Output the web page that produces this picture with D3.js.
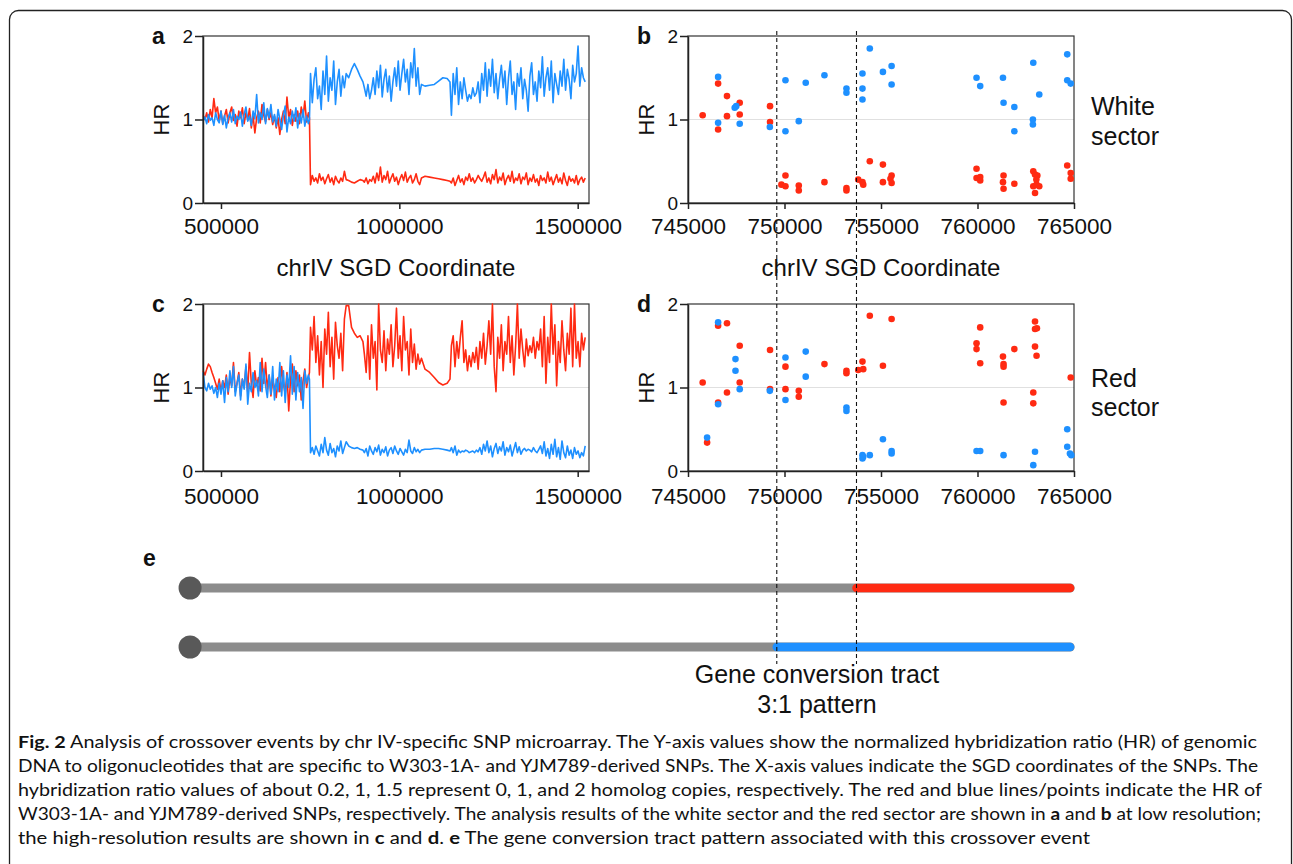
<!DOCTYPE html>
<html>
<head>
<meta charset="utf-8">
<script src="https://cdn.jsdelivr.net/npm/d3@7"></script>
<style>
  body { margin: 0; background: #fff; }
  svg text { font-family: "Liberation Sans", Arial, sans-serif; fill: #111; }
  svg text.cap { font-family: Lato, "Noto Sans", sans-serif; }
</style>
</head>
<body>
<svg id="fig" width="1293" height="864"></svg>
<script>
// SNP positions (kb) shared by the low resolution panels a and c
var POS_KB = [450,455,460,465,470,475,480,485,490,495,500,505,510,515,520,525,530,535,540,545,550,555,560,565,570,575,580,585,590,595,600,605,610,615,620,625,630,635,640,645,650,655,660,665,670,675,680,685,690,695,700,705,710,715,720,725,730,735,740,745,748,
  751,756,761,766,771,776,781,786,791,796,801,806,811,816,821,826,831,836,841,846,851,
  858,866,874,882,890,898,
  902,907,912,917,922,927,932,937,942,947,952,957,962,967,972,977,982,987,992,997,1002,1007,1012,1017,1022,1027,1032,1037,1042,1047,1052,1057,1062,
  1072,1085,1098,1110,1122,1134,1142,
  1146,1151,1156,1161,1166,1171,1176,1181,1186,1191,1196,1201,1206,1211,1216,1221,1226,1231,1236,1241,1246,1251,1256,1261,1266,1271,1276,1281,1286,1291,1296,1301,1306,1311,1316,1321,1326,1331,1336,1341,1346,1351,1356,1361,1366,1371,1376,1381,1386,1391,1396,1401,1406,1411,1416,1421,1426,1431,1436,1441,1446,1451,1456,1461,1466,1471,1476,1481,1486,1491,1496,1501,1506,1511,1516,1521];

// panel a (white sector): W303-1A (red) and YJM789 (blue)
var A_RED = [1.05,1.00,1.08,0.97,1.12,1.02,1.25,1.08,1.15,0.98,1.10,0.95,1.04,1.12,0.96,1.08,1.15,0.99,1.06,0.92,1.10,1.02,1.14,0.95,1.08,1.00,1.13,0.90,1.05,0.84,1.02,1.10,0.96,1.18,1.05,0.97,1.12,1.00,1.08,0.94,1.04,0.90,1.02,0.82,1.00,1.10,0.95,1.27,1.02,1.12,0.93,1.06,0.98,1.10,0.95,1.15,1.03,1.22,0.97,1.08,1.02,
  0.22,0.33,0.26,0.30,0.24,0.35,0.27,0.31,0.23,0.29,0.34,0.25,0.30,0.22,0.32,0.27,0.24,0.30,0.26,0.38,0.28,
  0.27,0.25,0.24,0.26,0.28,0.27,
  0.25,0.30,0.23,0.28,0.26,0.32,0.24,0.36,0.27,0.43,0.25,0.33,0.28,0.38,0.24,0.30,0.35,0.26,0.31,0.22,0.29,0.34,0.27,0.37,0.25,0.30,0.33,0.24,0.28,0.35,0.26,0.22,0.30,
  0.32,0.31,0.30,0.29,0.28,0.27,0.26,
  0.24,0.30,0.21,0.27,0.33,0.25,0.29,0.22,0.31,0.27,0.35,0.26,0.30,0.24,0.28,0.33,0.29,0.26,0.31,0.37,0.25,0.30,0.23,0.34,0.28,0.40,0.24,0.31,0.27,0.36,0.22,0.29,0.33,0.26,0.38,0.24,0.30,0.27,0.35,0.23,0.31,0.28,0.36,0.22,0.30,0.26,0.34,0.25,0.29,0.21,0.33,0.27,0.30,0.24,0.37,0.26,0.31,0.22,0.28,0.34,0.25,0.30,0.23,0.36,0.27,0.21,0.32,0.26,0.29,0.24,0.33,0.22,0.28,0.31,0.25,0.30];
var A_BLUE = [0.98,1.03,0.95,1.06,0.99,1.02,0.93,1.08,1.00,0.96,1.10,0.94,1.05,0.90,1.02,1.08,0.97,1.12,0.95,1.04,1.00,1.09,0.92,1.06,1.15,0.98,1.04,0.93,1.10,1.01,1.30,0.96,1.08,1.00,1.20,0.95,1.13,1.02,1.18,0.97,1.06,0.92,1.12,1.00,0.88,1.05,1.16,0.85,1.03,0.95,1.10,0.98,1.14,0.90,1.07,0.96,1.12,0.92,1.04,0.95,1.00,
  1.55,1.20,1.48,1.62,1.25,1.40,1.12,1.58,1.30,1.76,1.22,1.50,1.35,1.70,1.18,1.45,1.60,1.28,1.52,1.38,1.55,
  1.50,1.60,1.67,1.60,1.52,1.45,
  1.38,1.28,1.42,1.25,1.35,1.50,1.30,1.58,1.38,1.65,1.27,1.48,1.60,1.33,1.52,1.22,1.45,1.62,1.40,1.70,1.35,1.55,1.72,1.45,1.60,1.30,1.68,1.50,1.85,1.40,1.62,1.30,1.42,
  1.40,1.41,1.42,1.46,1.50,1.49,1.45,
  1.05,1.55,1.30,1.62,1.18,1.45,1.25,1.50,1.35,1.22,1.30,1.25,1.38,1.28,1.32,1.45,1.20,1.55,1.35,1.68,1.28,1.60,1.40,1.72,1.32,1.55,1.25,1.48,1.65,1.38,1.58,1.18,1.50,1.70,1.30,1.45,1.12,1.55,1.40,1.62,1.25,1.48,1.35,1.10,1.52,1.68,1.30,1.45,1.22,1.58,1.38,1.75,1.28,1.50,1.62,1.35,1.70,1.20,1.55,1.42,1.30,1.58,1.40,1.72,1.35,1.60,1.48,1.25,1.65,1.45,1.55,1.88,1.40,1.62,1.50,1.45];

// panel c (red sector)
var C_RED = [1.20,1.15,1.22,1.28,1.25,1.18,1.12,1.05,0.98,1.10,0.95,1.08,1.00,1.15,0.92,1.12,1.02,1.30,0.95,1.05,1.18,0.90,1.10,1.00,1.25,0.95,1.42,1.05,0.88,1.20,1.02,1.12,0.96,1.35,1.05,1.30,0.98,1.15,0.90,1.08,1.00,0.88,1.12,0.95,1.25,1.05,0.92,1.18,0.72,1.10,1.28,0.95,1.20,1.02,1.15,0.85,1.08,1.22,1.00,1.12,1.18,
  1.72,1.45,1.85,1.30,1.62,1.15,1.55,1.00,1.70,1.40,1.90,1.25,1.60,1.10,1.78,1.50,1.35,1.65,1.20,1.82,1.98,
  1.98,1.72,1.65,1.60,1.62,1.55,
  1.40,1.18,1.62,1.10,1.75,1.35,1.55,0.97,2.00,1.45,1.30,1.68,1.20,1.58,1.40,1.75,1.25,1.50,1.95,1.35,1.62,1.20,1.85,1.45,1.55,1.15,1.70,1.30,1.52,1.22,1.40,1.28,1.35,
  1.22,1.18,1.12,1.06,1.03,1.05,1.10,
  1.50,1.62,1.25,1.55,1.35,1.60,1.80,1.30,1.45,1.20,1.38,1.25,1.42,1.30,1.48,1.22,1.55,1.35,1.65,1.28,1.50,1.80,1.40,2.00,1.25,0.95,1.60,1.35,1.75,1.20,1.55,1.40,1.85,1.30,1.62,1.15,1.50,2.00,1.35,1.70,1.45,1.25,1.58,1.38,1.50,1.42,1.60,1.35,1.55,1.45,1.70,1.25,1.85,1.05,1.60,1.30,2.00,1.40,1.75,1.02,1.55,1.30,1.80,1.45,1.20,1.65,1.40,1.95,1.25,2.00,1.35,1.55,1.25,1.65,1.45,1.60];
var C_BLUE = [1.18,1.00,0.96,1.05,0.98,1.02,0.93,1.00,0.88,1.05,0.92,1.08,0.82,1.12,0.95,1.20,1.00,1.25,0.90,1.05,1.15,0.85,1.10,0.98,1.28,0.80,1.05,0.95,1.18,1.00,1.08,0.90,1.30,0.95,1.22,1.02,0.88,1.15,0.92,1.25,0.85,1.10,0.95,1.30,0.90,1.20,0.82,1.15,1.00,1.38,0.92,1.25,0.85,1.18,0.95,1.12,0.75,1.20,1.05,1.15,1.10,
  0.22,0.28,0.20,0.30,0.24,0.18,0.32,0.22,0.40,0.25,0.19,0.33,0.22,0.27,0.17,0.30,0.24,0.36,0.21,0.28,0.35,
  0.30,0.28,0.27,0.28,0.26,0.25,
  0.22,0.27,0.18,0.30,0.24,0.20,0.28,0.23,0.31,0.19,0.26,0.22,0.29,0.18,0.25,0.28,0.21,0.30,0.24,0.20,0.27,0.23,0.19,0.26,0.22,0.37,0.24,0.21,0.28,0.23,0.26,0.22,0.25,
  0.26,0.26,0.27,0.27,0.26,0.25,0.24,
  0.28,0.22,0.30,0.19,0.25,0.22,0.24,0.23,0.25,0.24,0.22,0.23,0.24,0.22,0.25,0.23,0.28,0.20,0.32,0.24,0.36,0.22,0.30,0.17,0.27,0.33,0.21,0.29,0.24,0.35,0.19,0.28,0.23,0.31,0.18,0.26,0.34,0.22,0.29,0.20,0.25,0.27,0.24,0.26,0.25,0.23,0.28,0.24,0.22,0.26,0.30,0.21,0.35,0.18,0.27,0.15,0.32,0.20,0.38,0.17,0.28,0.14,0.36,0.22,0.16,0.30,0.19,0.25,0.15,0.28,0.20,0.24,0.16,0.22,0.18,0.30];

// panel b (white sector, high resolution): [coordinate, HR]
var B_BLUE = [[746560,1.51],[746560,0.96],[747420,1.14],[747500,1.16],[747680,0.95],[749240,0.91],[750050,1.47],[750050,0.86],[750740,0.98],[751100,1.44],[752070,1.53],[753210,1.37],[753210,1.32],[754040,1.55],[754040,1.37],[754040,1.24],[754420,1.85],[755100,1.57],[755550,1.64],[755550,1.42],[759950,1.50],[760140,1.40],[761320,1.50],[761350,1.20],[761910,1.15],[761910,0.86],[762890,1.68],[762870,1.00],[762870,0.94],[763200,1.30],[764650,1.78],[764650,1.47],[764830,1.43]];
var B_RED = [[745760,1.05],[746560,1.43],[746560,0.88],[747020,1.28],[747020,1.04],[747680,1.20],[747680,1.06],[749250,1.16],[749250,0.97],[749840,0.22],[750050,0.33],[750050,0.20],[750740,0.21],[750740,0.15],[752070,0.25],[753210,0.18],[753210,0.15],[753820,0.28],[754040,0.25],[754080,0.22],[754420,0.50],[755100,0.46],[755100,0.25],[755550,0.33],[755490,0.29],[755550,0.24],[759950,0.41],[759950,0.30],[760140,0.31],[760140,0.27],[761350,0.33],[761320,0.25],[761350,0.17],[761910,0.23],[762890,0.38],[762980,0.34],[763100,0.33],[763050,0.28],[762890,0.20],[763060,0.22],[763200,0.20],[762980,0.12],[764650,0.45],[764830,0.36],[764830,0.29]];

// panel d (red sector, high resolution)
var D_BLUE = [[745990,0.40],[746560,1.78],[746560,0.80],[747460,1.34],[747460,1.20],[747680,0.98],[749240,0.96],[750050,1.36],[750050,0.85],[751100,1.43],[751100,1.13],[753210,0.76],[753210,0.72],[754040,0.19],[754040,0.15],[754080,0.17],[754420,0.19],[755100,0.38],[755550,0.24],[755550,0.21],[759950,0.24],[760140,0.24],[761350,0.19],[762890,0.07],[762980,0.23],[764650,0.50],[764650,0.29],[764790,0.21],[764860,0.19]];
var D_RED = [[745760,1.06],[745990,0.34],[746560,1.74],[746560,0.82],[747020,1.77],[747020,0.94],[747680,1.50],[747680,1.06],[749250,1.45],[749250,0.98],[750050,1.25],[750050,0.98],[750740,0.96],[750740,0.89],[752070,1.28],[753210,1.20],[753210,1.17],[753820,1.21],[754040,1.31],[754080,1.22],[754420,1.86],[755100,1.26],[755550,1.82],[759950,1.53],[759950,1.46],[760140,1.72],[760140,1.29],[761320,1.37],[761350,1.28],[761350,1.25],[761350,0.82],[761910,1.46],[762980,1.79],[762980,1.70],[763080,1.71],[762980,1.49],[763060,1.38],[762890,0.94],[762890,0.81],[764830,1.12]];

var LOW_TICKS = [500000, 1000000, 1500000];
var HIGH_TICKS = [745000, 750000, 755000, 760000, 765000];
var HR_TICKS = [0, 1, 2];
var TRACT = [749600, 753730];          // gene conversion tract borders
var CHROM_SPAN = [719200, 764800];     // extent of the schematic in e

var CAPTION = [
  [["Fig. 2", true], ["  Analysis of crossover events by chr IV-specific SNP microarray. The Y-axis values show the normalized hybridization ratio (HR) of genomic", false]],
  [["DNA to oligonucleotides that are specific to W303-1A- and YJM789-derived SNPs. The X-axis values indicate the SGD coordinates of the SNPs. The", false]],
  [["hybridization ratio values of about 0.2, 1, 1.5 represent 0, 1, and 2 homolog copies, respectively. The red and blue lines/points indicate the HR of", false]],
  [["W303-1A- and YJM789-derived SNPs, respectively. The analysis results of the white sector and the red sector are shown in ", false], ["a", true], [" and ", false], ["b", true], [" at low resolution;", false]],
  [["the high-resolution results are shown in ", false], ["c", true], [" and ", false], ["d", true], [". ", false], ["e", true], [" The gene conversion tract pattern associated with this crossover event", false]]
];
var CAPTION_WIDTH = [1239, 1240, 1244, 1243, 1072];

var RED = "#ff2a12", BLUE = "#1e90ff";

var svg = d3.select("#fig");

// outer frame of the figure
svg.append("rect")
  .attr("x", 9.5).attr("y", 10.5)
  .attr("width", 1282).attr("height", 900)
  .attr("rx", 9)
  .attr("fill", "none").attr("stroke", "#222").attr("stroke-width", 1.3);

function styleAxis(g, size) {
  g.attr("font-family", null).attr("font-size", null);
  g.select(".domain").attr("stroke", "#222").attr("stroke-width", 1.5);
  g.selectAll(".tick line").attr("stroke", "#222").attr("stroke-width", 1.5);
  g.selectAll(".tick text").attr("fill", "#111").style("font-size", size + "px");
}

function panel(box, domain, ticks, pad, letter) {
  var x = d3.scaleLinear().domain(domain).range([box.x0, box.x1]);
  var y = d3.scaleLinear().domain([0, 2]).range([box.y1, box.y0]);

  svg.append("line")
    .attr("x1", box.x0).attr("x2", box.x1)
    .attr("y1", y(1)).attr("y2", y(1))
    .attr("stroke", "#e0e0e0").attr("stroke-width", 1);

  svg.append("rect")
    .attr("x", box.x0).attr("y", box.y0)
    .attr("width", box.x1 - box.x0).attr("height", box.y1 - box.y0)
    .attr("fill", "none").attr("stroke", "#333").attr("stroke-width", 1.2);

  svg.append("text")
    .attr("x", box.x0 - 51).attr("y", box.y0 + 8)
    .style("font-size", "23px").style("font-weight", "bold")
    .text(letter);

  svg.append("text")
    .attr("transform", "translate(" + (box.x0 - 42) + "," + y(1) + ") rotate(-90)")
    .attr("text-anchor", "middle").attr("dy", "0.36em")
    .style("font-size", "22px")
    .text("HR");

  return {x: x, y: y, box: box, ticks: ticks, pad: pad};
}

function axes(p) {
  svg.append("g")
    .attr("transform", "translate(0," + p.box.y1 + ")")
    .call(d3.axisBottom(p.x).tickValues(p.ticks).tickFormat(d3.format("d"))
      .tickSize(6).tickPadding(p.pad).tickSizeOuter(0))
    .call(styleAxis, 22.5);
  svg.append("g")
    .attr("transform", "translate(" + p.box.x0 + ",0)")
    .call(d3.axisLeft(p.y).tickValues(HR_TICKS).tickFormat(d3.format("d"))
      .tickSize(8).tickPadding(2).tickSizeOuter(0))
    .call(styleAxis, 19);
}

function lines(p, reds, blues) {
  var line = d3.line().x(function(d) { return p.x(d[0]); }).y(function(d) { return p.y(d[1]); });
  [[reds, RED], [blues, BLUE]].forEach(function(s) {
    var pts = POS_KB.map(function(k, i) { return [k * 1000, s[0][i]]; });
    svg.append("path").datum(pts)
      .attr("d", line)
      .attr("fill", "none").attr("stroke", s[1])
      .attr("stroke-width", 1.6).attr("stroke-linejoin", "round");
  });
}

function dots(p, pts, colour) {
  svg.append("g").selectAll("circle")
    .data(pts).enter()
    .append("circle")
      .attr("cx", function(d) { return p.x(d[0]); })
      .attr("cy", function(d) { return p.y(d[1]); })
      .attr("r", 3.3)
      .attr("fill", colour);
}

var LOW = [449600, 1531700], HIGH = [745000, 765000];

var pa = panel({x0: 203, x1: 589, y0: 36, y1: 203}, LOW, LOW_TICKS, 9, "a");
lines(pa, A_RED, A_BLUE);
axes(pa);

var pb = panel({x0: 688, x1: 1074, y0: 36, y1: 203}, HIGH, HIGH_TICKS, 9, "b");
dots(pb, B_RED, RED);
dots(pb, B_BLUE, BLUE);
axes(pb);

var pc = panel({x0: 203, x1: 589, y0: 304, y1: 471}, LOW, LOW_TICKS, 11, "c");
lines(pc, C_RED, C_BLUE);
axes(pc);

var pd = panel({x0: 688, x1: 1074, y0: 304, y1: 471}, HIGH, HIGH_TICKS, 11, "d");
dots(pd, D_RED, RED);
dots(pd, D_BLUE, BLUE);
axes(pd);

// x axis titles (only under the top row)
[[396, "chrIV SGD Coordinate"], [881, "chrIV SGD Coordinate"]].forEach(function(t) {
  svg.append("text").attr("x", t[0]).attr("y", 276)
    .attr("text-anchor", "middle").style("font-size", "24px").text(t[1]);
});

// sector names
[[115, "White"], [145, "sector"], [387, "Red"], [416, "sector"]].forEach(function(t) {
  svg.append("text").attr("x", 1091).attr("y", t[0])
    .style("font-size", "25px").text(t[1]);
});

// panel e: schematic of the two chromatids
svg.append("text").attr("x", 143).attr("y", 566)
  .style("font-size", "23px").style("font-weight", "bold").text("e");

var xe = pb.x;
[[588, TRACT[1], RED], [647, TRACT[0], BLUE]].forEach(function(r) {
  svg.append("line")
    .attr("x1", xe(CHROM_SPAN[0])).attr("x2", xe(CHROM_SPAN[1]))
    .attr("y1", r[0]).attr("y2", r[0])
    .attr("stroke", "#8c8c8c").attr("stroke-width", 9).attr("stroke-linecap", "round");
  svg.append("line")
    .attr("x1", xe(r[1])).attr("x2", xe(CHROM_SPAN[1]))
    .attr("y1", r[0]).attr("y2", r[0])
    .attr("stroke", r[2]).attr("stroke-width", 8.5).attr("stroke-linecap", "round");
  svg.append("circle")
    .attr("cx", xe(CHROM_SPAN[0])).attr("cy", r[0]).attr("r", 11.5)
    .attr("fill", "#595959");
});

// dashed guides at the tract borders
TRACT.forEach(function(t) {
  svg.append("line")
    .attr("x1", xe(t)).attr("x2", xe(t))
    .attr("y1", 31).attr("y2", 664)
    .attr("stroke", "#111").attr("stroke-width", 1.1)
    .attr("stroke-dasharray", "4,3");
});

[[683, "Gene conversion tract"], [713, "3:1 pattern"]].forEach(function(t) {
  svg.append("text").attr("x", 817).attr("y", t[0])
    .attr("text-anchor", "middle").style("font-size", "25px").text(t[1]);
});

// caption
CAPTION.forEach(function(parts, i) {
  var t = svg.append("text").attr("class", "cap")
    .attr("x", 18).attr("y", 748 + i * 24)
    .attr("textLength", CAPTION_WIDTH[i]).attr("lengthAdjust", "spacingAndGlyphs")
    .style("font-size", "17px");
  parts.forEach(function(s) {
    t.append("tspan").style("font-weight", s[1] ? "bold" : "normal").text(s[0]);
  });
});
</script>
</body>
</html>
